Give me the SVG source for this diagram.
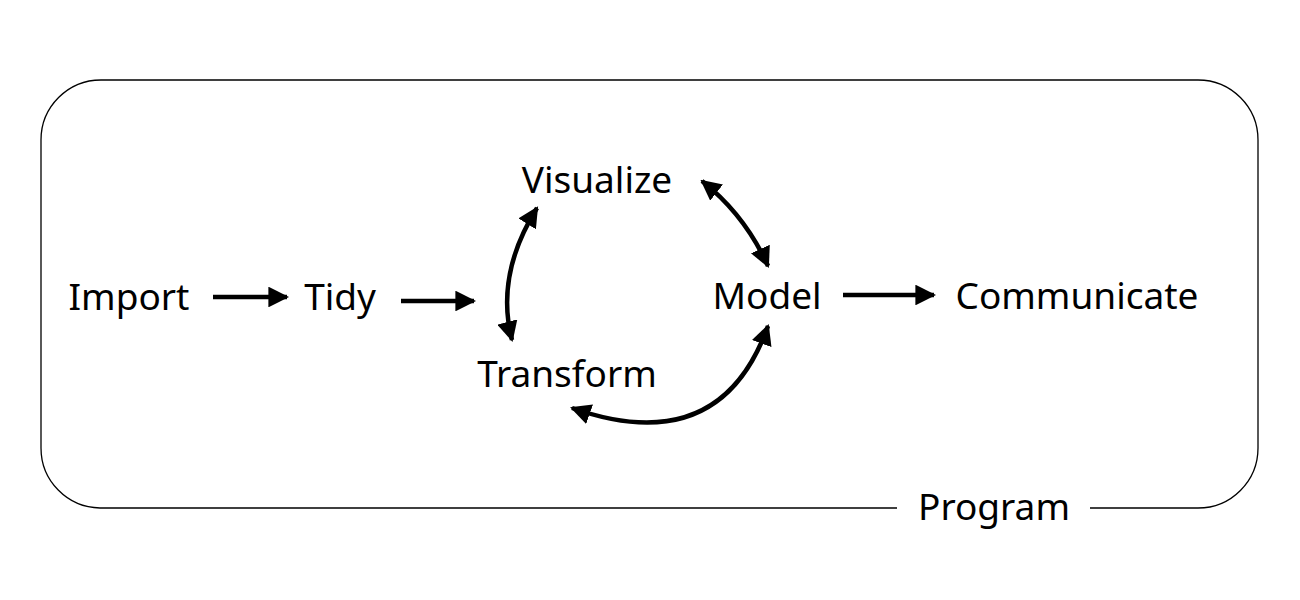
<svg xmlns="http://www.w3.org/2000/svg" width="1300" height="600" viewBox="0 0 1300 600">
<style>
text{font-family:"Noto Sans","Open Sans",sans-serif;font-size:37px;fill:#000;text-anchor:middle}
.c{fill:none;stroke:#000;stroke-width:4.5}
</style>
<defs>
<marker id="ah" viewBox="0 0 10 10" refX="9" refY="5" markerWidth="4.6" markerHeight="4.6" orient="auto-start-reverse" markerUnits="strokeWidth">
<path d="M0,0 L10,5 L0,10 z" fill="#000"/>
</marker>
</defs>
<rect width="1300" height="600" fill="#fff"/>
<g id="program">
<path d="M897,508 H100 A60,60 0 0 1 41,448 V140 A60,60 0 0 1 101,80 H1198 A60,60 0 0 1 1258,140 V448 A60,60 0 0 1 1198,508 H1090" fill="none" stroke="#000" stroke-width="1.3"/>
<text x="994" y="520">Program</text>
</g>
<g id="import"><text x="129" y="310">Import</text></g>
<g id="tidy"><text x="340" y="310">Tidy</text></g>
<g id="visualize"><text x="597" y="193">Visualize</text></g>
<g id="model"><text x="767" y="309">Model</text></g>
<g id="transform"><text x="567" y="387">Transform</text></g>
<g id="communicate"><text x="1077" y="309">Communicate</text></g>
<g id="connectors">
<path class="c" d="M213,297 H287" marker-end="url(#ah)"/>
<path class="c" d="M401,301 H474" marker-end="url(#ah)"/>
<path class="c" d="M843,295 H934" marker-end="url(#ah)"/>
<path class="c" d="M537,208 Q495,275 512,340" marker-start="url(#ah)" marker-end="url(#ah)"/>
<path class="c" d="M702,181 Q745,215 768,266" marker-start="url(#ah)" marker-end="url(#ah)"/>
<path class="c" d="M572,408 Q720,460 768,326" marker-start="url(#ah)" marker-end="url(#ah)"/>
</g>
</svg>
